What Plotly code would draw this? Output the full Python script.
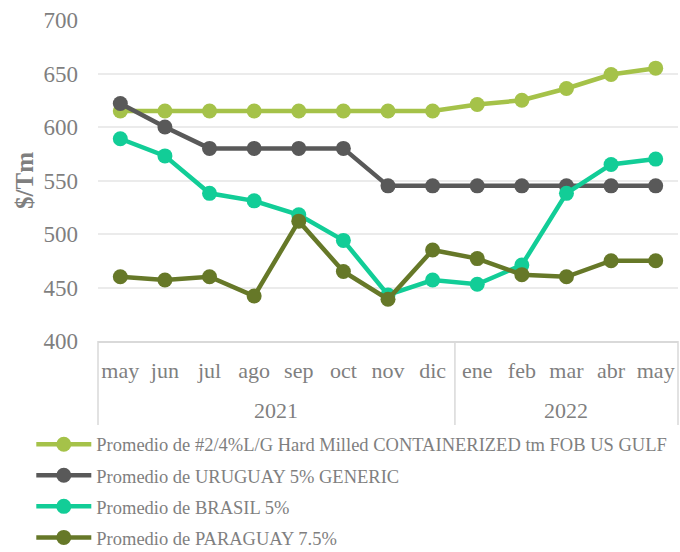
import plotly.graph_objects as go

years = ["2021", "2022"]
year_counts = [8, 5]
months = ["may", "jun", "jul", "ago", "sep", "oct", "nov", "dic",
          "ene", "feb", "mar", "abr", "may"]

us_gulf = [615, 615, 615, 615, 615, 615, 615, 615, 621, 625, 636, 649, 655]
uruguay = [622, 600, 580, 580, 580, 580, 545, 545, 545, 545, 545, 545, 545]
brasil = [589, 573, 538, 531, 518, 494, 443, 457, 453, 471, 538, 565, 570]
paraguay = [460, 457, 460, 442, 512, 465, 439, 485, 477, 462, 460, 475, 475]

names = [
    "Promedio de #2/4%L/G Hard Milled CONTAINERIZED tm FOB US GULF",
    "Promedio de URUGUAY 5% GENERIC",
    "Promedio de BRASIL 5%",
    "Promedio de PARAGUAY 7.5%",
]
series = [us_gulf, uruguay, brasil, paraguay]
colors = ["#A5C249", "#595959", "#12CD97", "#667828"]

font_family = "Liberation Serif, Times New Roman, serif"
gray = "#7F7F7F"
divider = "#D9D9D9"

xs = list(range(len(months)))

fig = go.Figure()
for name, vals, col in zip(names, series, colors):
    fig.add_trace(go.Scatter(
        x=xs, y=vals, name=name, mode="lines+markers",
        line=dict(color=col, width=4.5),
        marker=dict(color=col, size=15),
        legendgroup=name,
    ))

# group dividers and year labels
n = len(months)
bounds = [0]
for c in year_counts:
    bounds.append(bounds[-1] + c)
shapes = []
for b in bounds:
    shapes.append(dict(type="line", xref="paper", yref="paper",
                       x0=b / n, x1=b / n, y0=0, y1=-0.262,
                       line=dict(color=divider, width=1.5)))
annotations = []
for i, yr in enumerate(years):
    center = (bounds[i] + bounds[i + 1] - 1) / 2
    annotations.append(dict(text=yr, x=center, xref="x", y=-0.218, yref="paper",
                            xanchor="center", yanchor="middle", showarrow=False,
                            font=dict(size=22, color=gray, family=font_family)))

fig.update_layout(
    width=680, height=552,
    margin=dict(l=98, r=2, t=20, b=211, autoexpand=False),
    plot_bgcolor="white", paper_bgcolor="white",
    font=dict(family=font_family, color=gray, size=20),
    showlegend=True,
    shapes=shapes,
    annotations=annotations,
    legend=dict(
        orientation="v", x=-0.115, xanchor="left", y=-0.264, yanchor="top",
        font=dict(size=18.5, color=gray, family=font_family),
        tracegroupgap=4, itemwidth=55,
    ),
    xaxis=dict(
        range=[-0.5, n - 0.5],
        tickvals=xs, ticktext=months,
        tickangle=0,
        showline=True, linecolor=divider, linewidth=1.5,
        tickfont=dict(size=22, color=gray, family=font_family),
        ticklabelstandoff=9,
        showgrid=False, zeroline=False, ticks="",
    ),
    yaxis=dict(
        range=[400, 700], dtick=50,
        showgrid=True, gridcolor="#EBEBEB", gridwidth=1.5,
        zeroline=False, showline=False,
        tickfont=dict(size=23, color=gray, family=font_family),
        ticklabelstandoff=19,
        title=dict(text="<b>$/Tm</b>", font=dict(size=25, color=gray, family=font_family), standoff=2),
        ticks="", ticklen=0,
    ),
)

fig.write_html("out.html", config={"displayModeBar": False},
               post_script="document.body.style.margin='0';")
